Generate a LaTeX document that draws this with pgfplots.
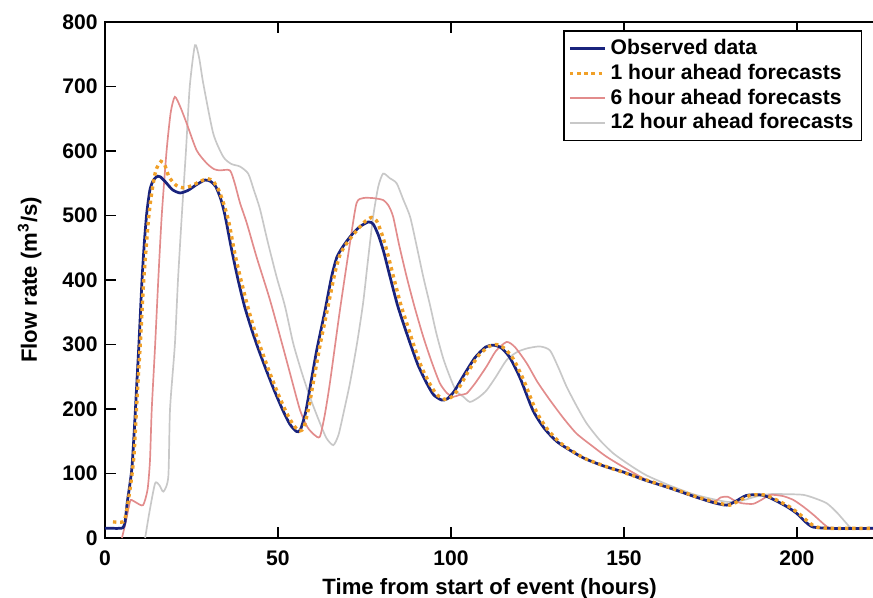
\documentclass[border=0pt]{standalone}
\usepackage{pgfplots}
\pgfplotsset{compat=1.18}
\usepackage{fontspec}
\setmainfont{Liberation Sans}

\definecolor{obs}{RGB}{25,35,125}
\definecolor{oneh}{RGB}{240,160,40}
\definecolor{sixh}{RGB}{226,140,140}
\definecolor{twelveh}{RGB}{200,200,200}

\begin{document}
\begin{tikzpicture}
\begin{axis}[
    scale only axis,
    width=12.82cm, height=8.6cm,
    xmin=0, xmax=222.35,
    ymin=0, ymax=800,
    xtick={0,50,100,150,200},
    ytick={0,100,...,800},
    xtick pos=both, ytick pos=left,
    axis line style={line width=0.7pt},
    tick align=inside,
    major tick length=5pt,
    tick style={black, line width=0.7pt},
    /pgf/number format/assume math mode=true,
    tick label style={font=\fontsize{10}{12}\selectfont\bfseries},
    xticklabel style={yshift=-2.5pt},
    label style={font=\fontsize{10.5}{12}\selectfont\bfseries},
    xlabel={Time from start of event (hours)},
    ylabel={Flow rate (m\textsuperscript{3}/s)},
    xlabel style={yshift=1pt},
    ylabel style={yshift=3pt},
    legend style={at={(rel axis cs:0.596,0.984)}, anchor=north west,
        draw=black, line width=0.6pt, font=\fontsize{10}{10.6}\selectfont\bfseries,
        cells={anchor=west}, row sep=-1pt, inner sep=2pt},
    legend image code/.code={\draw[#1] (0.08cm,0cm) -- (0.66cm,0cm);},
]

% 12 hour ahead forecasts
\addplot[twelveh, line width=0.8pt, smooth, tension=0.4, forget plot] coordinates {
(11.6,0)(13,45)(14.5,85)(15.7,82)(16.9,72)(18.3,95)(18.8,200)(20.2,300)(21.1,400)
(22.2,500)(23.4,600)(24.5,700)(26,764)(27.2,745)(28.4,705)(31.3,627)(34.2,591)
(36.5,580)(39,576)(41.4,565)(43,540)(44.8,510)(47,460)(49.6,405)(52,360)(54.4,302)
(56.8,258)(59.2,219)(62,180)(64,155)(66,144)(67.5,160)(69,195)(70.8,240)(72.8,300)
(74.6,364)(76,430)(77.5,498)(79,545)(80.4,565)(82.3,558)(84.3,550)(86.2,525)
(88.2,498)(90,455)(92,405)(94,360)(95.8,317)(97.8,278)(99.7,250)(101.5,228)
(103.6,219)(105.5,211)(108,218)(110.3,229)(113,250)(116.1,276)(119,288)(122,294)
(125.7,297)(128.6,291)(131,265)(133.4,235)(136.3,205)(139.2,178)(143,152)(147,131)
(152,112)(156.6,97)(163,82)(170,68)(176,60)(180,56)(184,58)(188,64)(192,68)(197,68)
(201.8,67)(205,62)(208.6,54)(211.5,40)(214.3,23)(216,15)(222,15)
};

% 6 hour ahead forecasts
\addplot[sixh, line width=0.8pt, smooth, tension=0.4, forget plot] coordinates {
(4.9,0)(6,25)(7.2,56)(7.7,59)(9,55)(11,51)(12.3,75)(13,120)(13.5,198)(14.5,300)
(15.4,400)(16.4,500)(17.8,600)(19,660)(20.2,684)(21.8,668)(23.6,643)(26.5,601)
(29.4,581)(31.5,572)(33.2,570)(36.1,570)(37.5,550)(39,520)(41,488)(43.8,436)
(47.7,369)(51.5,295)(54,245)(56.4,198)(58.5,172)(60.5,160)(62.1,157)(63.5,190)
(65,240)(67.9,353)(70.8,457)(72.7,519)(74.6,527)(77.5,527)(80.4,524)(82,515)
(83.3,498)(85,455)(87.2,405)(89.5,358)(92,312)(94.5,272)(96.8,240)(98.8,225)
(100.7,219)(102.5,222)(104.5,224)(107,240)(110.3,266)(113,290)(116.1,304)(118.5,296)
(121.9,271)(125,242)(128.6,214)(132.5,186)(136.3,162)(141,142)(145,126)(150.5,108)
(156.6,90)(163,78)(170,65)(176,57)(178,63)(180,64)(182,58)(184,54)(187.4,53)(190,60)
(192.3,67)(196,65)(199,59)(202,48)(205,35)(208.6,18)(211,14)(222,14)
};

% Observed data
\addplot[obs, line width=1.3pt, smooth, tension=0.4, forget plot] coordinates {
(0,15)(2,15)(4,15)(5.2,16)(5.8,25)(6.4,54)(7.1,80)(7.8,110)(8.5,170)(9.2,240)
(9.8,300)(10.7,400)(11.4,460)(12.1,505)(13,540)(14,555)(15.2,561)(16,560)(17.5,552)
(19.5,540)(21.7,535)(24,539)(26.5,548)(28.9,555)(30.5,553)(32,545)(33.5,525)
(34.7,500)(36.5,450)(38.4,402)(40.3,360)(42.3,325)(44.2,295)(46.5,262)(49,228)
(51.5,197)(53.5,176)(55.4,165)(56.5,168)(58,195)(59.5,240)(61.2,291)(63.5,350)
(65.5,405)(67,435)(68.8,452)(71,468)(73.5,482)(76.1,490)(77.5,487)(79,470)(80.5,445)
(82.4,405)(84.5,362)(86.3,332)(88.2,302)(90.5,268)(93,240)(95,222)(97.3,214)(99,216)
(101,228)(104,255)(107,280)(110,296)(112.2,299)(114.5,295)(117,280)(120,248)
(123.7,198)(127,170)(131,148)(138,125)(144,112)(150,102)(156,90)(163,78)(170,65)
(175.8,55)(179.6,51)(182,56)(185.4,66)(189.3,67)(192,63)(197,49)(200,38)(202.5,25)
(204.7,17)(210,15)(222,15)
};

% 1 hour ahead forecasts
\addplot[oneh, line width=1.6pt, dash pattern=on 1.6pt off 1.8pt, smooth, tension=0.4, forget plot] coordinates {
(2.3,25)(5.2,25)(6,35)(6.8,60)(7.6,90)(8.4,130)(9.3,220)(10.3,310)(11.2,400)
(12.5,490)(13.5,535)(14.7,570)(16.2,584)(17.3,578)(18.5,560)(20.5,547)(22.5,543)
(25,546)(27.5,553)(29.7,557)(31.3,553)(33,538)(34.5,515)(35.8,490)(37.5,442)
(39.4,398)(41.3,358)(43.2,323)(45.2,292)(47.5,258)(50,224)(52.5,194)(54.5,175)
(56.3,166)(57.5,172)(59,205)(60.5,250)(62.2,300)(64.5,360)(66.5,412)(68,440)
(70,458)(72.5,475)(75,490)(77,497)(78.5,492)(80,472)(81.5,445)(83.4,405)(85.5,362)
(87.3,332)(89.2,300)(91.5,265)(94,238)(96,222)(98.3,215)(100,218)(102,230)(105,258)
(108,283)(111,297)(113.2,300)(115.5,294)(118,278)(121,245)(124.7,196)(128,168)
(132,146)(138.5,124)(144.8,111)(150.8,100)(157,89)(164,77)(171,64)(176.8,55)
(180.6,51)(183,57)(186.4,66)(190.3,67)(193,62)(198,48)(201,36)(203.5,24)(205.7,17)
(210,15)(222,15)
};

\addlegendimage{obs, line width=1.3pt}
\addlegendentry{Observed data}
\addlegendimage{oneh, line width=1.6pt, dash pattern=on 1.6pt off 1.8pt}
\addlegendentry{1 hour ahead forecasts}
\addlegendimage{sixh, line width=0.8pt}
\addlegendentry{6 hour ahead forecasts}
\addlegendimage{twelveh, line width=0.8pt}
\addlegendentry{12 hour ahead forecasts}
\end{axis}
\pgfresetboundingbox
\path[use as bounding box] (-1.75cm,-0.983cm) rectangle (12.8cm,8.967cm);
\end{tikzpicture}
\end{document}
